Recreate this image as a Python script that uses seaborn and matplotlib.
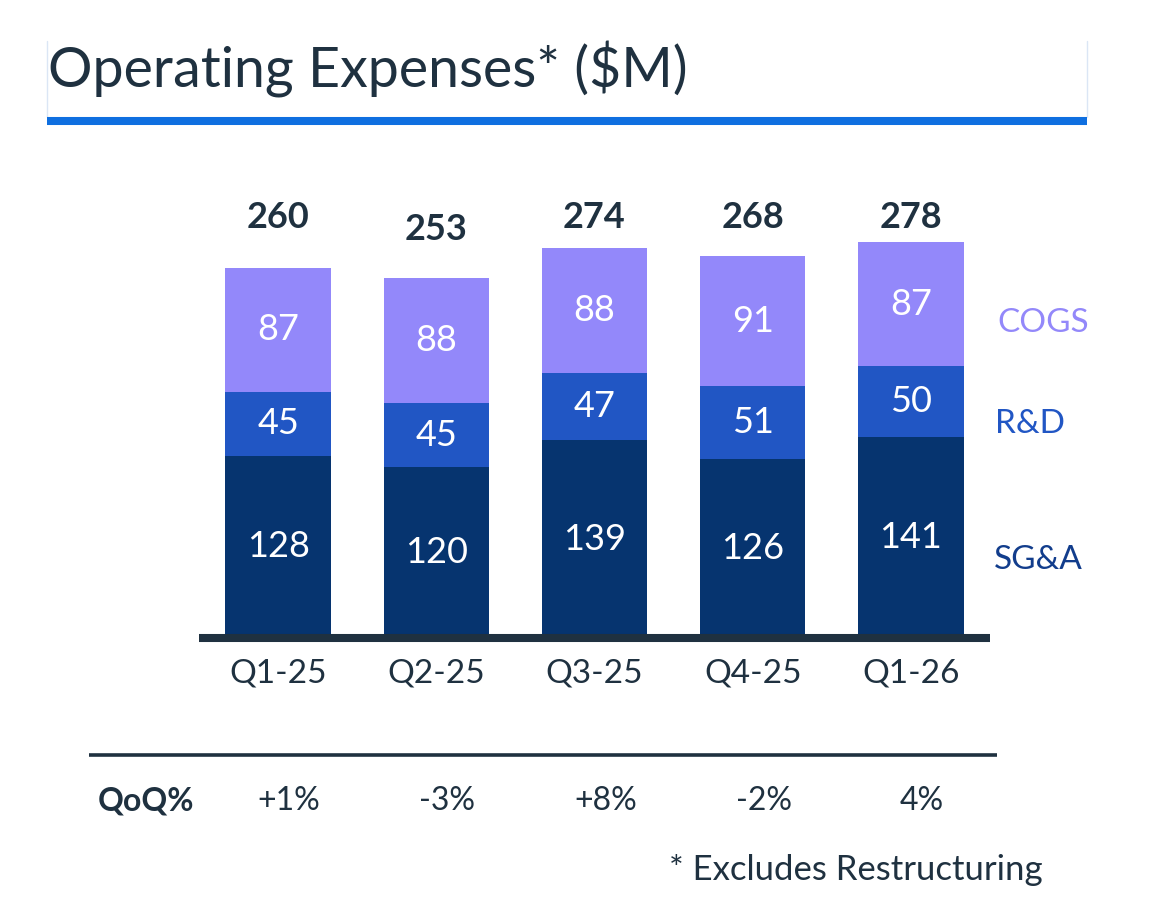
import numpy as np
import pandas as pd
import matplotlib
matplotlib.use("Agg")
import matplotlib.pyplot as plt
import matplotlib.transforms as mtransforms
from matplotlib.lines import Line2D
import seaborn as sns

# Data
quarters = ["Q1-25", "Q2-25", "Q3-25", "Q4-25", "Q1-26"]
sga = [128, 120, 139, 126, 141]
rnd = [45, 45, 47, 51, 50]
cogs = [87, 88, 88, 91, 87]
totals = [260, 253, 274, 268, 278]
qoq = ["+1%", "-3%", "+8%", "-2%", "4%"]

sns.set_theme(style="white")
plt.rcParams["font.family"] = ["Lato", "DejaVu Sans"]

TEXT = "#1f3140"
C_SGA = "#06346f"
C_RND = "#2156c4"
C_COGS = "#9388fa"

W, H = 1160, 914
fig = plt.figure(figsize=(W / 100, H / 100), dpi=100)

def fx(px):
    return px / W

def fy(px):
    return 1 - px / H

ax = fig.add_axes([fx(199), fy(638), fx(990) - fx(199), fy(190) - fy(638)])

df = pd.DataFrame({"Quarter": quarters, "SG&A": sga, "R&D": rnd, "COGS": cogs})
bottom_rnd = np.array(sga)
bottom_cogs = np.array(sga) + np.array(rnd)

sns.barplot(data=df, x="Quarter", y="SG&A", color=C_SGA, width=0.665,
            saturation=1, ax=ax, linewidth=0)
sns.barplot(data=df, x="Quarter", y="R&D", color=C_RND, width=0.665,
            saturation=1, ax=ax, bottom=bottom_rnd, linewidth=0)
sns.barplot(data=df, x="Quarter", y="COGS", color=C_COGS, width=0.665,
            saturation=1, ax=ax, bottom=bottom_cogs, linewidth=0)

ax.set_xlim(-0.5, 4.5)
ax.set_ylim(0, 314.6)
ax.set_xlabel("")
ax.set_ylabel("")
ax.set_yticks([])
for s in ["top", "left", "right"]:
    ax.spines[s].set_visible(False)
ax.spines["bottom"].set_color(TEXT)
ax.spines["bottom"].set_linewidth(5.8)
ax.spines["bottom"].set_capstyle("butt")
ax.tick_params(axis="x", length=0, pad=15, labelsize=24, labelcolor=TEXT)

# segment labels
for i in range(len(quarters)):
    for base, v in [(0, sga[i]), (bottom_rnd[i], rnd[i]), (bottom_cogs[i], cogs[i])]:
        ax.text(i, base + v / 2, str(v), ha="center", va="center",
                color="white", fontsize=26)

# totals
xt = ax.get_xaxis_transform()
for i, t in enumerate(totals):
    y = 0.9129 if i == 1 else 0.9375
    ax.text(i, y, str(t), transform=xt, ha="center", va="center",
            color=TEXT, fontsize=26, fontweight="bold")

# series names on the right
fig.text(fx(997), fy(323), "COGS", color=C_COGS, fontsize=24, va="center")
fig.text(fx(995), fy(424), "R&D", color=C_RND, fontsize=24, va="center")
fig.text(fx(994), fy(560), "SG&A", color="#123d8c", fontsize=24, va="center")

# title block
fig.text(fx(48), fy(87), "Operating Expenses* ($M)", color=TEXT,
         fontsize=40, va="baseline")
for xx in [47, 1087]:
    fig.add_artist(Line2D([fx(xx), fx(xx)], [fy(41), fy(117)],
                          color="#dbe6f5", lw=1))
fig.add_artist(Line2D([fx(47), fx(1087)], [fy(121), fy(121)],
                      color="#0f6fe0", lw=5.8, solid_capstyle="butt"))

# QoQ row
fig.add_artist(Line2D([fx(89), fx(997)], [fy(755), fy(755)],
                      color=TEXT, lw=2.6, solid_capstyle="butt"))
fig.text(fx(98), fy(801), "QoQ%", color=TEXT, fontsize=23,
         fontweight="bold", va="center")
bt = mtransforms.blended_transform_factory(ax.transData, fig.transFigure)
for i, q in enumerate(qoq):
    ax.text(i + 0.07, fy(801), q, transform=bt, ha="center", va="center",
            color=TEXT, fontsize=23)

fig.text(fx(1043), fy(870), "* Excludes Restructuring", color=TEXT,
         fontsize=25, ha="right", va="center")

fig.savefig("out.png", dpi=100)
